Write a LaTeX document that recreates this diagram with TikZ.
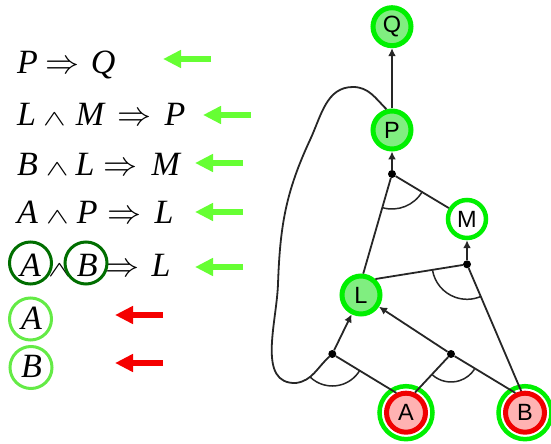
\documentclass[tikz,border=0pt]{standalone}
\usepackage{graphicx}
\usepackage{fontspec}
\setmainfont{Liberation Serif}
\newfontfamily\graphfont{Liberation Sans}
\usetikzlibrary{arrows.meta}

\definecolor{ringgreen}{RGB}{0,240,0}
\definecolor{nodefill}{RGB}{128,238,128}
\definecolor{factfill}{RGB}{255,178,178}
\definecolor{factred}{RGB}{240,0,0}
\definecolor{markgreen}{RGB}{102,255,51}
\definecolor{markred}{RGB}{245,0,0}
\definecolor{circdark}{RGB}{0,110,0}
\definecolor{circlight}{RGB}{100,235,70}

% math symbols set at 10pt and scaled up to the 34pt text
\newcommand\wdg{\scalebox{3.4}[2.2]{\fontsize{10}{12}\selectfont$\wedge$}}
\newcommand\impl{\scalebox{3.4}{\fontsize{10}{12}\selectfont$\Rightarrow$}}

\begin{document}
\begin{tikzpicture}[x=1pt,y=1pt,
  rule/.style={anchor=base west, inner sep=0pt, font=\fontsize{34}{40}\selectfont},
  symnode/.style={circle, inner sep=0pt, minimum size=38pt, line width=5pt,
    draw=ringgreen, fill=nodefill, font=\graphfont\fontsize{23.5}{23.5}\selectfont},
  emptynode/.style={symnode, fill=white, line width=4.5pt},
  factnode/.style={symnode, minimum size=39pt, draw=factred, fill=factfill},
  outerring/.style={draw=ringgreen, line width=4.5pt},
  junction/.style={circle, fill=black, inner sep=0pt, minimum size=8pt},
  link/.style={draw=black!85, line width=1.8pt},
  implies/.style={link, -{Latex[length=8pt,width=8pt]}},
  andarc/.style={draw=black!85, line width=1.5pt},
  marker/.style={line width=6pt, -{Triangle[length=18pt,width=17pt]}},
  ringmark/.style={line width=3pt}
]
\useasboundingbox (0,0) rectangle (551,444);

% ---- rules ----
\node[rule] (r1) at (17,370) {\textit{P}\hspace{8pt}\impl\hspace{11pt}\textit{Q}};
\node[rule] (r2) at (17,318) {\textit{L}\hspace{7pt}\wdg\hspace{10pt}\textit{M}\hspace{12pt}\impl\hspace{13pt}\textit{P}};
\node[rule] (r3) at (17,268) {\textit{B}\hspace{8pt}\wdg\hspace{7pt}\textit{L}\hspace{9pt}\impl\hspace{14pt}\textit{M}};
\node[rule] (r4) at (17,220) {\textit{A}\hspace{8pt}\wdg\hspace{8pt}\textit{P}\hspace{10pt}\impl\hspace{13pt}\textit{L}};
\node[rule] (r5) at (20,167) {\textit{A}\hspace{7pt}\wdg\hspace{6pt}\textit{B}\hspace{8pt}\impl\hspace{12pt}\textit{L}};
\node[rule] (r6) at (21,114) {\textit{A}};
\node[rule] (r7) at (21,66) {\textit{B}};

% circled symbols
\draw[ringmark, circdark] (30.5,181) circle[radius=21];
\draw[ringmark, circdark] (86,181) circle[radius=21];
\draw[ringmark, circlight] (30.5,125) circle[radius=21];
\draw[ringmark, circlight] (31,76.5) circle[radius=21];

% markers
\draw[marker, markgreen] (211,385) -- (163,385);
\draw[marker, markgreen] (251,329) -- (203,329);
\draw[marker, markgreen] (243,281) -- (195,281);
\draw[marker, markgreen] (243,232) -- (195,232);
\draw[marker, markgreen] (243,177) -- (195,177);
\draw[marker, markred] (163,129) -- (115,129);
\draw[marker, markred] (163,81) -- (115,81);

% ---- graph ----
\draw[outerring] (406,31.3) circle[radius=26.5];
\draw[outerring] (525,31.3) circle[radius=26.5];

\node[symnode] (Q) at (392,417.3) {Q};
\node[symnode] (P) at (392,314) {P};
\node[emptynode] (M) at (467,225) {M};
\node[symnode] (L) at (361,149) {L};
\node[factnode] (A) at (406,31.3) {A};
\node[factnode] (B) at (525,31.3) {B};

\node[junction] (jp) at (392,270) {};
\node[junction] (jm) at (467,179.7) {};
\node[junction] (jl1) at (332.3,90) {};
\node[junction] (jl2) at (451,90) {};

% P => Q
\draw[implies] (P) -- (Q);
% L and M => P
\draw[link] (L.84) -- (jp);
\draw[link] (M) -- (jp);
\draw[implies] (jp) -- (P);
\draw[andarc] ([shift={(254:35)}]jp.center) arc[start angle=254, end angle=330, radius=35];
% B and L => M
\draw[link] (L.48) -- (jm);
\draw[link] (B.100) -- (jm);
\draw[implies] (jm) -- (M);
\draw[andarc] ([shift={(190:35)}]jm.center) arc[start angle=190, end angle=293, radius=35];
% A and P => L
\draw[link] (P.105) to[out=135,in=0] (353,357) to[out=180,in=65] (310,304)
  to[out=245,in=88] (278,160) to[out=268,in=182] (296,61) to[out=8,in=222] (jl1);
\draw[link] (A.116) -- (jl1);
\draw[implies] (jl1) -- (L);
\draw[andarc] ([shift={(225:32)}]jl1.center) arc[start angle=225, end angle=328, radius=32];
% A and B => L
\draw[link] (A.66) -- (jl2);
\draw[link] (B.116) -- (jl2);
\draw[implies] (jl2) -- (L);
\draw[andarc] ([shift={(228:28)}]jl2.center) arc[start angle=228, end angle=327, radius=28];
\end{tikzpicture}
\end{document}
